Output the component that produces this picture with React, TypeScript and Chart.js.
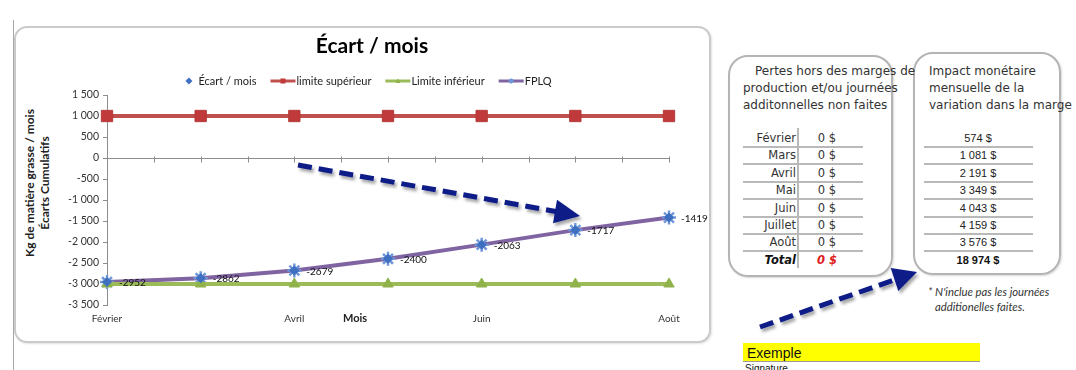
import React, { useEffect, useRef } from 'react';
import { Chart, registerables } from 'chart.js';

Chart.register(...registerables);

// ---------- data ----------
const months = ['Février', 'Mars', 'Avril', 'Mai', 'Juin', 'Juillet', 'Août'];
const ecartMois = [-2952, -2862, -2679, -2400, -2063, -1717, -1419];
const limiteSuperieur = [1000, 1000, 1000, 1000, 1000, 1000, 1000];
const limiteInferieur = [-3000, -3000, -3000, -3000, -3000, -3000, -3000];
const fplq = [-2952, -2862, -2679, -2400, -2063, -1717, -1419];
const yMin = -3500;
const yMax = 1500;
const yStep = 500;
const chartTitle = 'Écart / mois';

const pertesValues = ['0 $', '0 $', '0 $', '0 $', '0 $', '0 $', '0 $'];
const pertesTotal = '0 $';
const impactValues = ['574 $', '1 081 $', '2 191 $', '3 349 $', '4 043 $', '4 159 $', '3 576 $'];
const impactTotal = '18 974 $';

const FONT = 'Lato, "Open Sans", sans-serif';
const TABLE_FONT = '"DejaVu Sans", Verdana, sans-serif';
const ARIAL = '"Liberation Sans", Arial, sans-serif';

function fmtThousands(v: number): string {
  const s = Math.abs(v).toString().replace(/\B(?=(\d{3})+(?!\d))/g, '\u00a0');
  return (v < 0 ? '-' : '') + s;
}

function drawMarker(ctx: CanvasRenderingContext2D, style: string, x: number, y: number, r: number, fill: string, stroke: string) {
  ctx.save();
  ctx.fillStyle = fill;
  ctx.strokeStyle = stroke;
  ctx.lineWidth = 1.5;
  ctx.beginPath();
  if (style === 'rect') {
    ctx.rect(x - r, y - r, 2 * r, 2 * r);
    ctx.fill();
  } else if (style === 'rectRot') {
    ctx.moveTo(x, y - r);
    ctx.lineTo(x + r, y);
    ctx.lineTo(x, y + r);
    ctx.lineTo(x - r, y);
    ctx.closePath();
    ctx.fill();
  } else if (style === 'triangle') {
    ctx.moveTo(x, y - r);
    ctx.lineTo(x + r, y + r * 0.8);
    ctx.lineTo(x - r, y + r * 0.8);
    ctx.closePath();
    ctx.fill();
  } else if (style === 'star') {
    ctx.moveTo(x - r, y);
    ctx.lineTo(x + r, y);
    ctx.moveTo(x, y - r);
    ctx.lineTo(x, y + r);
    ctx.moveTo(x - r * 0.7, y - r * 0.7);
    ctx.lineTo(x + r * 0.7, y + r * 0.7);
    ctx.moveTo(x - r * 0.7, y + r * 0.7);
    ctx.lineTo(x + r * 0.7, y - r * 0.7);
    ctx.stroke();
  }
  ctx.restore();
}

// Title + Excel-like legend (line with marker) drawn above the plot
const excelHeader = {
  id: 'excelHeader',
  afterDraw(chart: any) {
    const { ctx } = chart;
    ctx.save();
    // title
    ctx.font = `bold 21px ${FONT}`;
    ctx.fillStyle = '#000';
    ctx.textAlign = 'center';
    ctx.textBaseline = 'middle';
    ctx.fillText(chartTitle, 356, 18);

    // legend
    const y = 53;
    const cx = 352;
    ctx.font = `11px ${FONT}`;
    const items = chart.data.datasets.map((ds: any) => {
      const hasLine = ds.showLine !== false;
      const symW = hasLine ? 25 : 9;
      const gap = hasLine ? 1 : 5;
      const tw = ctx.measureText(ds.label).width;
      return { ds, hasLine, symW, gap, tw, w: symW + gap + tw };
    });
    const spacing = 14;
    const total = items.reduce((a: number, it: any) => a + it.w, 0) + spacing * (items.length - 1);
    let x = cx - total / 2;
    for (const it of items) {
      const ds = it.ds;
      if (it.hasLine) {
        ctx.strokeStyle = ds.borderColor;
        ctx.lineWidth = ds.borderWidth - 1;
        ctx.beginPath();
        ctx.moveTo(x, y);
        ctx.lineTo(x + it.symW, y);
        ctx.stroke();
        drawMarker(ctx, ds.pointStyle, x + it.symW / 2, y, 2.5, ds.pointBackgroundColor, ds.pointBorderColor);
      } else {
        drawMarker(ctx, ds.pointStyle, x + it.symW / 2, y, 3.5, ds.pointBackgroundColor, ds.pointBorderColor);
      }
      ctx.fillStyle = '#222';
      ctx.textAlign = 'left';
      ctx.fillText(ds.label, x + it.symW + it.gap, y);
      x += it.w + spacing;
    }
    ctx.restore();
  },
};

// horizontal category axis crossing at 0 with half-category tick marks
const zeroAxis = {
  id: 'zeroAxis',
  beforeDatasetsDraw(chart: any) {
    const { ctx, chartArea, scales } = chart;
    const y0 = Math.round(scales.y.getPixelForValue(0)) + 0.5;
    ctx.save();
    ctx.strokeStyle = '#8c8c8c';
    ctx.lineWidth = 1;
    ctx.beginPath();
    ctx.moveTo(chartArea.left, y0);
    ctx.lineTo(chartArea.right, y0);
    const n = chart.data.labels.length;
    for (let i = 0; i <= 2 * (n - 1); i++) {
      const xp = Math.round(scales.x.getPixelForValue(i / 2)) + 0.5;
      ctx.moveTo(xp, y0 - 2);
      ctx.lineTo(xp, y0 + 4);
    }
    ctx.stroke();
    ctx.restore();
  },
};

const pointLabels = {
  id: 'pointLabels',
  afterDatasetsDraw(chart: any) {
    const { ctx } = chart;
    const meta = chart.getDatasetMeta(0);
    const ds = chart.data.datasets[0];
    ctx.save();
    ctx.font = `10px ${FONT}`;
    ctx.fillStyle = '#111';
    ctx.textBaseline = 'middle';
    ctx.textAlign = 'left';
    meta.data.forEach((pt: any, i: number) => {
      ctx.fillText(String(ds.data[i]), pt.x + 12, pt.y + 1);
    });
    ctx.restore();
  },
};

function EcartChart() {
  const ref = useRef<HTMLCanvasElement | null>(null);
  useEffect(() => {
    if (!ref.current) return;
    const chart = new Chart(ref.current, {
      type: 'line',
      data: {
        labels: months,
        datasets: [
          {
            label: 'Écart / mois',
            data: ecartMois,
            showLine: false,
            pointStyle: 'rectRot',
            pointRadius: 4.5,
            pointBackgroundColor: '#3f6fc0',
            pointBorderColor: '#3f6fc0',
            borderColor: '#3f6fc0',
            clip: false,
          },
          {
            label: 'limite supérieur',
            data: limiteSuperieur,
            borderColor: '#c0504d',
            borderWidth: 4,
            pointStyle: 'rect',
            pointRadius: 8,
            pointBackgroundColor: '#c0393b',
            pointBorderColor: '#b53a38',
            pointBorderWidth: 1,
            clip: false,
          },
          {
            label: 'Limite inférieur',
            data: limiteInferieur,
            borderColor: '#9bbb59',
            borderWidth: 4,
            pointStyle: 'triangle',
            pointRadius: 6,
            pointBackgroundColor: '#8fb24a',
            pointBorderColor: '#8fb24a',
            pointBorderWidth: 1,
            clip: false,
          },
          {
            label: 'FPLQ',
            data: fplq,
            borderColor: '#8064a2',
            borderWidth: 4,
            pointStyle: 'star',
            pointRadius: 7,
            pointBackgroundColor: '#6f97da',
            pointBorderColor: '#6f97da',
            pointBorderWidth: 2.5,
            clip: false,
          },
        ],
      },
      options: {
        animation: false,
        responsive: false,
        maintainAspectRatio: false,
        layout: { padding: { left: 36, right: 40, top: 67, bottom: 0 } },
        plugins: {
          legend: { display: false },
          tooltip: { enabled: false },
          title: { display: false },
        },
        scales: {
          x: {
            type: 'category',
            offset: false,
            grid: { display: false, drawTicks: false },
            border: { display: false },
            ticks: {
              autoSkip: false,
              maxRotation: 0,
              padding: 8,
              color: '#333',
              font: { family: FONT, size: 10 },
              callback: (_v: any, i: number) => (i % 2 === 0 ? months[i] : ''),
            },
            afterFit: (s: any) => {
              s.height = 36;
            },
          },
          y: {
            min: yMin,
            max: yMax,
            grid: { display: true, drawOnChartArea: false, drawTicks: true, tickLength: 4, color: '#8c8c8c' },
            border: { display: true, color: '#8c8c8c' },
            ticks: {
              stepSize: yStep,
              padding: 4,
              color: '#333',
              font: { family: FONT, size: 10.5 },
              callback: (v: any) => fmtThousands(Number(v)),
            },
            afterFit: (s: any) => {
              s.width = 55;
            },
          },
        },
      } as any,
      plugins: [zeroAxis, pointLabels, excelHeader],
    });
    return () => chart.destroy();
  }, []);
  return (
    <canvas
      ref={ref}
      width={693}
      height={313}
      style={{ position: 'absolute', left: 16, top: 28, width: 693, height: 313 }}
    />
  );
}

const ROW0 = 138;
const PITCH = 17.4;
const LINE_COLOR = '#b9b9b9';

function Arrows() {
  const navy = '#0b1a86';
  return (
    <svg
      width={1076}
      height={370}
      style={{ position: 'absolute', left: 0, top: 0, pointerEvents: 'none' }}
    >
      <defs>
        <filter id="sh" x="-20%" y="-60%" width="140%" height="220%">
          <feDropShadow dx="2" dy="3" stdDeviation="1.6" floodColor="#000" floodOpacity="0.35" />
        </filter>
      </defs>
      <g filter="url(#sh)">
        <line x1={298} y1={165} x2={556} y2={211.5} stroke={navy} strokeWidth={5} strokeDasharray="14 7" />
        <polygon points="580,216 557,199.7 553,223.3" fill={navy} />
        <line x1={760} y1={327} x2={894} y2={280} stroke={navy} strokeWidth={5} strokeDasharray="14 7" />
        <polygon points="917,272 890.7,268.1 898.3,290.9" fill={navy} />
      </g>
    </svg>
  );
}

function Tables() {
  const monthStyle: React.CSSProperties = {
    position: 'absolute',
    left: 736,
    width: 60,
    textAlign: 'right',
    height: 16,
    lineHeight: '16px',
    fontFamily: TABLE_FONT,
    fontSize: 11.5,
    color: '#333',
    whiteSpace: 'nowrap',
  };
  const valStyle: React.CSSProperties = {
    position: 'absolute',
    left: 812,
    width: 30,
    textAlign: 'center',
    height: 16,
    lineHeight: '16px',
    fontFamily: TABLE_FONT,
    fontSize: 11.5,
    color: '#333',
    whiteSpace: 'nowrap',
  };
  const impStyle: React.CSSProperties = {
    position: 'absolute',
    left: 938,
    width: 80,
    textAlign: 'center',
    height: 16,
    lineHeight: '16px',
    fontFamily: ARIAL,
    fontSize: 11,
    color: '#222',
    whiteSpace: 'nowrap',
  };
  const headStyle: React.CSSProperties = {
    position: 'absolute',
    fontFamily: TABLE_FONT,
    fontSize: 12,
    color: '#333',
    whiteSpace: 'nowrap',
    lineHeight: '16.5px',
  };
  const noteStyle: React.CSSProperties = {
    position: 'absolute',
    fontFamily: FONT,
    fontStyle: 'italic',
    fontSize: 11.3,
    color: '#333',
    whiteSpace: 'nowrap',
    lineHeight: '14px',
  };
  return (
    <>
      {/* boxes */}
      <div
        style={{
          position: 'absolute', left: 728, top: 55, width: 161, height: 218,
          border: '2px solid #b4b4b4', borderRadius: 20, boxShadow: '1px 1px 2px rgba(0,0,0,0.15)',
        }}
      />
      <div
        style={{
          position: 'absolute', left: 913, top: 52, width: 144, height: 219,
          border: '2px solid #b4b4b4', borderRadius: 20, boxShadow: '1px 1px 2px rgba(0,0,0,0.15)',
        }}
      />
      {/* headers */}
      <div style={{ ...headStyle, left: 755, top: 63 }}>Pertes hors des marges de</div>
      <div style={{ ...headStyle, left: 743, top: 80 }}>production et/ou journées</div>
      <div style={{ ...headStyle, left: 743, top: 96.5 }}>additonnelles non faites</div>
      <div style={{ ...headStyle, left: 929, top: 63 }}>Impact monétaire</div>
      <div style={{ ...headStyle, left: 929, top: 80 }}>mensuelle de la</div>
      <div style={{ ...headStyle, left: 929, top: 96.5 }}>variation dans la marge</div>

      {/* left table */}
      <div style={{ position: 'absolute', left: 797, top: 128, width: 2, height: 140, background: LINE_COLOR }} />
      {months.map((m, i) => (
        <React.Fragment key={m}>
          <div style={{ ...monthStyle, top: ROW0 + i * PITCH - 8 }}>{m}</div>
          <div style={{ ...valStyle, top: ROW0 + i * PITCH - 8 }}>{pertesValues[i]}</div>
          <div style={{ position: 'absolute', left: 743, top: ROW0 + i * PITCH + 8, width: 120, height: 2, background: LINE_COLOR }} />
          <div style={{ ...impStyle, top: ROW0 + i * PITCH - 8 }}>{impactValues[i]}</div>
          <div style={{ position: 'absolute', left: 924, top: ROW0 + i * PITCH + 8, width: 109, height: 2, background: LINE_COLOR }} />
        </React.Fragment>
      ))}
      <div style={{ ...monthStyle, top: ROW0 + 7 * PITCH - 8, fontWeight: 'bold', fontStyle: 'italic', color: '#111' }}>Total</div>
      <div style={{ ...valStyle, top: ROW0 + 7 * PITCH - 8, fontWeight: 'bold', fontStyle: 'italic', color: '#e0201c' }}>{pertesTotal}</div>
      <div style={{ ...impStyle, top: ROW0 + 7 * PITCH - 8, fontWeight: 'bold', color: '#111' }}>{impactTotal}</div>

      {/* footnote */}
      <div style={{ ...noteStyle, left: 928, top: 285 }}>* N'inclue pas les journées</div>
      <div style={{ ...noteStyle, left: 935, top: 300 }}>additionelles faites.</div>

      {/* Exemple box */}
      <div style={{ position: 'absolute', left: 743, top: 343, width: 237, height: 18, background: '#ffff00' }} />
      <div style={{ position: 'absolute', left: 743, top: 361, width: 237, height: 1, background: '#9a9a9a' }} />
      <div style={{ position: 'absolute', left: 747, top: 344, fontFamily: ARIAL, fontSize: 14, color: '#111', lineHeight: '18px' }}>Exemple</div>
      <div style={{ position: 'absolute', left: 745, top: 363, fontFamily: ARIAL, fontSize: 10, color: '#111', lineHeight: '12px' }}>Signature</div>
    </>
  );
}

export default function App() {
  return (
    <div
      style={{
        position: 'fixed', left: 0, top: 0, width: 1076, height: 370,
        overflow: 'hidden', background: '#fff',
      }}
    >
      {/* spreadsheet edge */}
      <div style={{ position: 'absolute', left: 13, top: 20, width: 1, height: 350, background: '#a8a8a8' }} />
      {/* chart frame */}
      <div
        style={{
          position: 'absolute', left: 14, top: 26, width: 693, height: 313,
          border: '2px solid #cacaca', borderRadius: 13, background: '#fff',
          boxShadow: '1px 1px 2px rgba(0,0,0,0.12)',
        }}
      />
      {/* y axis title */}
      <div
        style={{
          position: 'absolute', left: -62.5, top: 168, width: 200, height: 30,
          transform: 'rotate(-90deg)', transformOrigin: '50% 50%',
          textAlign: 'center', fontFamily: FONT, fontWeight: 'bold', fontSize: 12,
          lineHeight: '14.5px', color: '#222', whiteSpace: 'nowrap',
        }}
      >
        Kg de matière grasse / mois
        <br />
        Écarts Cumulatifs
      </div>
      <EcartChart />
      {/* x axis title */}
      <div
        style={{
          position: 'absolute', left: 330, top: 311, width: 50, textAlign: 'center',
          fontFamily: FONT, fontWeight: 'bold', fontSize: 11, lineHeight: '14px', color: '#222',
        }}
      >
        Mois
      </div>
      <Tables />
      <Arrows />
    </div>
  );
}
